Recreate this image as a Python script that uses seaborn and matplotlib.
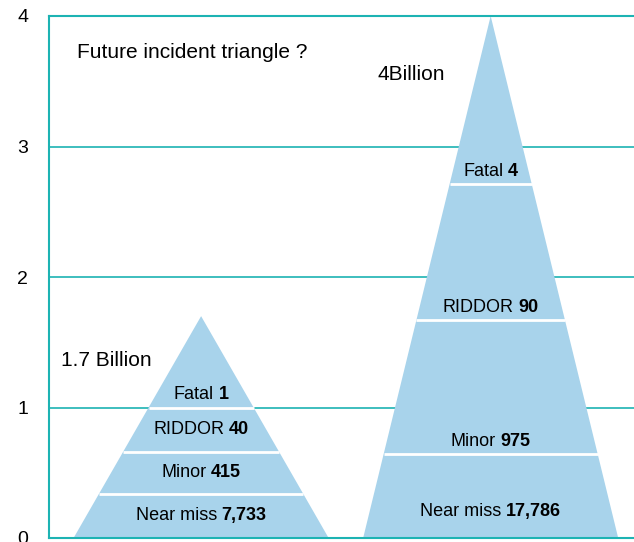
import matplotlib
matplotlib.use("Agg")
import matplotlib.pyplot as plt
import seaborn as sns
from matplotlib.offsetbox import TextArea, HPacker, AnnotationBbox

sns.set_style("white")
plt.rcParams['font.family'] = ['Liberation Sans', 'DejaVu Sans']
plt.rcParams['text.color'] = 'black'
plt.rcParams['ytick.color'] = 'black'

# band names, bottom to top
categories = ["Near miss", "Minor", "RIDDOR", "Fatal"]
# triangle heights (billion)
totals = [1.7, 4.0]
total_labels = ["1.7 Billion", "4Billion"]
# incident counts per band
counts_now = [7733, 415, 40, 1]
counts_future = [17786, 975, 90, 4]
# upper edge of each band (axis units), last band runs to the apex
tops_now = [0.34, 0.66, 1.0]
tops_future = [0.64, 1.67, 2.71]
yticks = [0, 1, 2, 3, 4]

teal = "#1db3b3"
blue = "#a8d3eb"

fig = plt.figure(figsize=(6.34, 5.42), dpi=100)
ax = fig.add_axes([49 / 634, 4 / 542, 1 - 49 / 634, 522 / 542])

centers = [0.26, 0.755]
half_base = 0.218
label_offsets = [[None, None, None, 0.1], [0.2, 0.1, 0.1, 0.1]]

for i, (total, counts, tops) in enumerate(zip(totals, [counts_now, counts_future],
                                               [tops_now, tops_future])):
    cx = centers[i]
    ax.fill([cx - half_base, cx, cx + half_base], [0, total, 0], color=blue, lw=0, zorder=2)
    # white divider lines across the triangle
    for t in tops:
        hw = half_base * (1 - t / total)
        ax.plot([cx - hw, cx + hw], [t, t], color="white", lw=2, zorder=3,
                solid_capstyle="butt")
    bounds = [0] + tops + [total]
    for j, (name, val) in enumerate(zip(categories, counts)):
        lo, hi = bounds[j], bounds[j + 1]
        off = label_offsets[i][j]
        y = (lo + hi) / 2 if off is None else lo + off
        box = HPacker(children=[TextArea(name, textprops=dict(size=13, color="black")),
                                TextArea(f"{val:,}", textprops=dict(size=13, weight="bold",
                                                                   color="black"))],
                      pad=0, sep=3.5, align="baseline")
        ab = AnnotationBbox(box, (cx, y), frameon=False, box_alignment=(0.5, 0.5),
                            pad=0, zorder=4)
        ax.add_artist(ab)

ax.text(0.048, 3.72, "Future incident triangle ?", fontsize=15, va="center", ha="left")
ax.text(0.561, 3.55, total_labels[1], fontsize=15, va="center", ha="left")
ax.text(0.0205, 1.36, total_labels[0], fontsize=15, va="center", ha="left")

ax.set_xlim(0, 1)
ax.set_ylim(0, 4)
ax.set_yticks(yticks)
ax.set_xticks([])
ax.tick_params(axis="y", length=0, pad=15, labelsize=14, labelcolor="black")
ax.yaxis.grid(True, color=teal, lw=1.2, zorder=1)
ax.set_axisbelow(True)
for side in ["left", "bottom", "top"]:
    ax.spines[side].set_color(teal)
    ax.spines[side].set_linewidth(1.5)
ax.spines["right"].set_visible(False)

fig.savefig("out.png", dpi=100)
